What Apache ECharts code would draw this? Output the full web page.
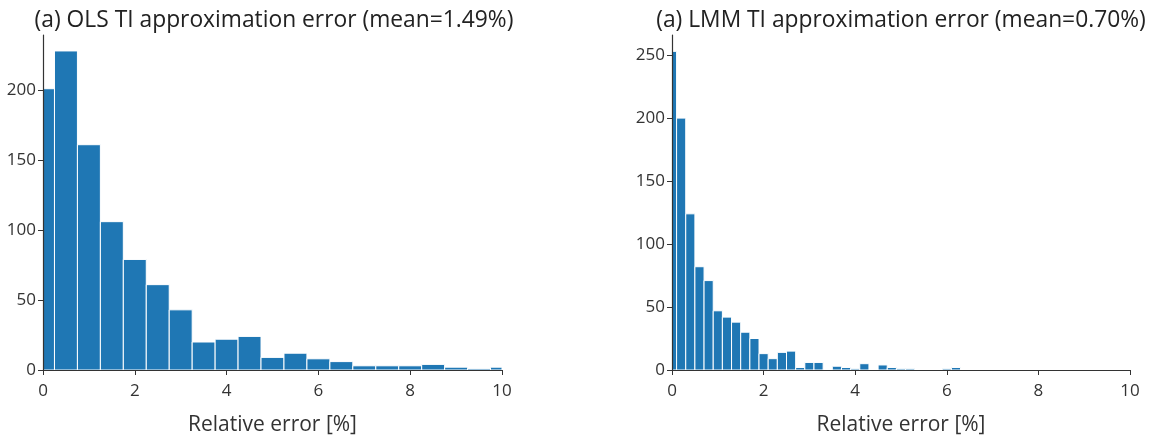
<!DOCTYPE html>
<html>
<head>
<meta charset="utf-8">
<script src="https://cdn.jsdelivr.net/npm/echarts@6/dist/echarts.min.js"></script>
<style>
  html, body { margin: 0; padding: 0; background: #fff; }
  #chart { width: 1156px; height: 436px; }
</style>
</head>
<body>
<div id="chart"></div>
<script>
// histogram bin centres and counts
var olsCenters = [0, 0.5, 1, 1.5, 2, 2.5, 3, 3.5, 4, 4.5, 5, 5.5, 6, 6.5, 7, 7.5, 8, 8.5, 9, 9.5, 10];
var olsCounts  = [201, 228, 161, 106, 79, 61, 43, 20, 22, 24, 9, 12, 8, 6, 3, 3, 3, 4, 2, 1, 2];

var lmmCenters = [0, 0.2, 0.4, 0.6, 0.8, 1, 1.2, 1.4, 1.6, 1.8, 2, 2.2, 2.4, 2.6, 2.8,
                  3, 3.2, 3.4, 3.6, 3.8, 4, 4.2, 4.4, 4.6, 4.8, 5, 5.2, 5.4, 5.6, 5.8, 6, 6.2];
var lmmCounts  = [253, 200, 124, 82, 71, 47, 42, 38, 30, 25, 13, 9, 14, 15, 2,
                  6, 6, 0, 3, 2, 1, 5, 0, 4, 2, 1, 1, 0, 0, 0, 1, 2];

var olsBinWidth = 0.5;
var lmmBinWidth = 0.2;

var textColor = '#333';
var fontName = 'Open Sans';

function pairs(xs, ys) {
	var out = [];
	for (var i = 0; i < xs.length; i++) {
		out.push([xs[i], ys[i]]);
	}
	return out;
}

// draws one histogram bin as a rectangle, clipped to the plot area
function binRenderer(width) {
	return function(params, api) {
		var c = api.value(0), v = api.value(1);
		if (v <= 0) return null;
		var p0 = api.coord([c - width / 2, v]);
		var p1 = api.coord([c + width / 2, 0]);
		var shape = echarts.graphic.clipRectByRect(
			{ x: p0[0], y: p0[1], width: p1[0] - p0[0], height: p1[1] - p0[1] },
			{ x: params.coordSys.x, y: params.coordSys.y,
			  width: params.coordSys.width, height: params.coordSys.height }
		);
		return shape && {
			type: 'rect',
			shape: shape,
			style: { fill: '#1f77b4', stroke: '#fff', lineWidth: 1 }
		};
	};
}

function xAxisFor(idx) {
	return {
		type: 'value', gridIndex: idx, min: 0, max: 10, interval: 2, z: 5,
		name: 'Relative error [%]', nameLocation: 'middle', nameGap: 45,
		nameTextStyle: { fontFamily: fontName, fontSize: 21, color: textColor },
		axisLine: { show: true, lineStyle: { color: '#333', width: 1.2 } },
		axisTick: { show: true, length: 5, lineStyle: { color: '#333' } },
		axisLabel: { margin: 13, fontFamily: fontName, fontSize: 17, color: textColor },
		splitLine: { show: false }
	};
}

function yAxisFor(idx, max) {
	return {
		type: 'value', gridIndex: idx, min: 0, max: max, interval: 50, z: 5,
		axisLine: { show: true, lineStyle: { color: '#333', width: 1.2 } },
		axisTick: { show: true, length: 5, lineStyle: { color: '#333' } },
		axisLabel: { margin: 7, fontFamily: fontName, fontSize: 17, color: textColor,
			showMaxLabel: false },
		splitLine: { show: false }
	};
}

var chart = echarts.init(document.getElementById('chart'), null, { renderer: 'canvas' });

var option = {
	animation: false,
	backgroundColor: '#fff',
	title: [
		{ text: '(a) OLS TI approximation error (mean=1.49%)', left: 269, top: 4, textAlign: 'center',
		  textStyle: { fontFamily: fontName, fontSize: 22.8, fontWeight: 'normal', color: '#222' } },
		{ text: '(a) LMM TI approximation error (mean=0.70%)', left: 896, top: 4, textAlign: 'center',
		  textStyle: { fontFamily: fontName, fontSize: 22.8, fontWeight: 'normal', color: '#222' } }
	],
	grid: [
		{ left: 43, top: 35, width: 459, height: 335, outerBoundsMode: 'none' },
		{ left: 672, top: 35, width: 458, height: 335, outerBoundsMode: 'none' }
	],
	xAxis: [xAxisFor(0), xAxisFor(1)],
	yAxis: [yAxisFor(0, 239.4), yAxisFor(1, 266)],
	series: [
		{ type: 'custom', xAxisIndex: 0, yAxisIndex: 0, z: 1,
		  renderItem: binRenderer(olsBinWidth), data: pairs(olsCenters, olsCounts) },
		{ type: 'custom', xAxisIndex: 1, yAxisIndex: 1, z: 1,
		  renderItem: binRenderer(lmmBinWidth), data: pairs(lmmCenters, lmmCounts) }
	]
};

chart.setOption(option);
</script>
</body>
</html>
